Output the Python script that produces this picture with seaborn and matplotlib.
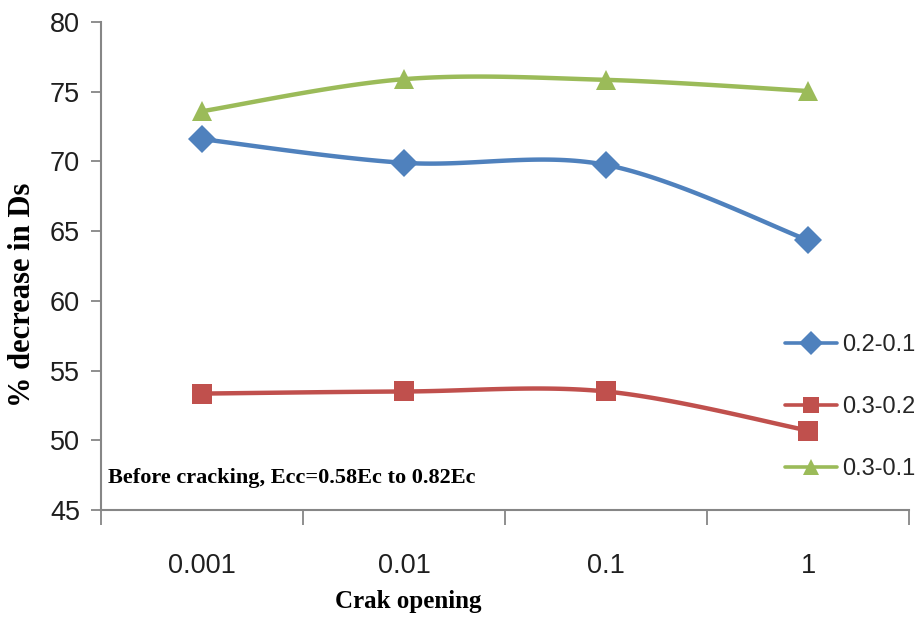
import numpy as np
import pandas as pd
import matplotlib
matplotlib.use("Agg")
import matplotlib.pyplot as plt
from matplotlib.lines import Line2D
import seaborn as sns

# Data
crack_openings = ["0.001", "0.01", "0.1", "1"]
series_names = ["0.2-0.1", "0.3-0.2", "0.3-0.1"]
s_02_01 = [71.6, 69.9, 69.75, 64.35]
s_03_02 = [53.35, 53.5, 53.5, 50.7]
s_03_01 = [73.6, 75.9, 75.85, 75.05]
y_ticks = [45, 50, 55, 60, 65, 70, 75, 80]

colors = ["#4F81BD", "#C0504D", "#9BBB59"]
markers = ["D", "s", "^"]
marker_sizes = [14, 14, 14]


def smooth_curve(xs, ys, n=40):
    """Catmull-Rom style Bezier smoothing through the points."""
    pts = np.column_stack([xs, ys]).astype(float)
    ext = np.vstack([pts[0], pts, pts[-1]])
    out = []
    t = np.linspace(0, 1, n)[:, None]
    for i in range(len(pts) - 1):
        p0, p1, p2, p3 = ext[i], ext[i + 1], ext[i + 2], ext[i + 3]
        c1 = p1 + (p2 - p0) / 6.0
        c2 = p2 - (p3 - p1) / 6.0
        seg = ((1 - t) ** 3) * p1 + 3 * ((1 - t) ** 2) * t * c1 \
            + 3 * (1 - t) * t ** 2 * c2 + t ** 3 * p2
        out.append(seg if i == 0 else seg[1:])
    curve = np.vstack(out)
    return curve[:, 0], curve[:, 1]


sns.set_theme(style="white")
plt.rcParams["font.family"] = ["Liberation Sans", "DejaVu Sans"]

fig = plt.figure(figsize=(9.21, 6.22), dpi=100)
ax = fig.add_axes([101 / 921, 1 - 510 / 622, 808 / 921, 488 / 622])

xpos = np.arange(len(crack_openings))
all_series = [s_02_01, s_03_02, s_03_01]

for name, vals, col, mk, ms in zip(series_names, all_series, colors, markers, marker_sizes):
    cx, cy = smooth_curve(xpos, vals)
    sns.lineplot(x=cx, y=cy, ax=ax, color=col, linewidth=3.2, sort=False,
                 estimator=None, legend=False)
    pts = pd.DataFrame({"x": xpos, "y": vals})
    ax.plot(pts["x"], pts["y"], linestyle="none", marker=mk, markersize=ms,
            color=col, markeredgewidth=0, zorder=3)

ax.set_xlim(-0.5, len(crack_openings) - 0.5)
ax.set_ylim(45, 80)
ax.set_yticks(y_ticks)
ax.set_yticklabels([str(v) for v in y_ticks], fontsize=19.5, color="#1f1f1f")

# category boundaries carry the tick marks, centres carry the labels
ax.set_xticks(np.arange(-0.5, len(crack_openings)), labels=[""] * (len(crack_openings) + 1))
ax.set_xticks(xpos, labels=crack_openings, minor=True)
ax.tick_params(axis="x", which="major", direction="out", length=11, width=1.3,
               color="#868686", bottom=True)
ax.tick_params(axis="x", which="minor", length=0, pad=31, labelsize=19.5,
               labelcolor="#1f1f1f")
ax.tick_params(axis="y", direction="out", length=7, width=1.3, color="#868686",
               left=True, pad=8)

for side in ["top", "right"]:
    ax.spines[side].set_visible(False)
for side in ["left", "bottom"]:
    ax.spines[side].set_color("#868686")
    ax.spines[side].set_linewidth(1.5)
ax.grid(False)

ax.set_ylabel("% decrease in Ds", fontsize=22, fontweight="bold",
              family=["Liberation Serif"], color="black")
ax.yaxis.set_label_coords(-0.079, 0.44)
ax.set_xlabel("Crak opening", fontsize=18, fontweight="bold",
              family=["Liberation Serif"], color="black")
ax.xaxis.set_label_coords(0.38, -0.164)

ax.text(0.009, 0.066, "Before cracking, Ecc=0.58Ec to 0.82Ec", transform=ax.transAxes,
        fontsize=16, fontweight="bold", family=["Liberation Serif"], va="center",
        ha="left", color="black")

handles = [Line2D([0], [0], color=c, linewidth=2.6, marker=m, markersize=12,
                  markeredgewidth=0) for c, m in zip(colors, markers)]
ax.legend(handles, series_names, loc="upper left", bbox_to_anchor=(785 / 921, 1 - 334 / 622),
          bbox_transform=fig.transFigure, frameon=False, fontsize=17, handlelength=2.2,
          handletextpad=0.2, labelspacing=1.7, borderpad=0, borderaxespad=0)

fig.savefig("out.png", dpi=100)
